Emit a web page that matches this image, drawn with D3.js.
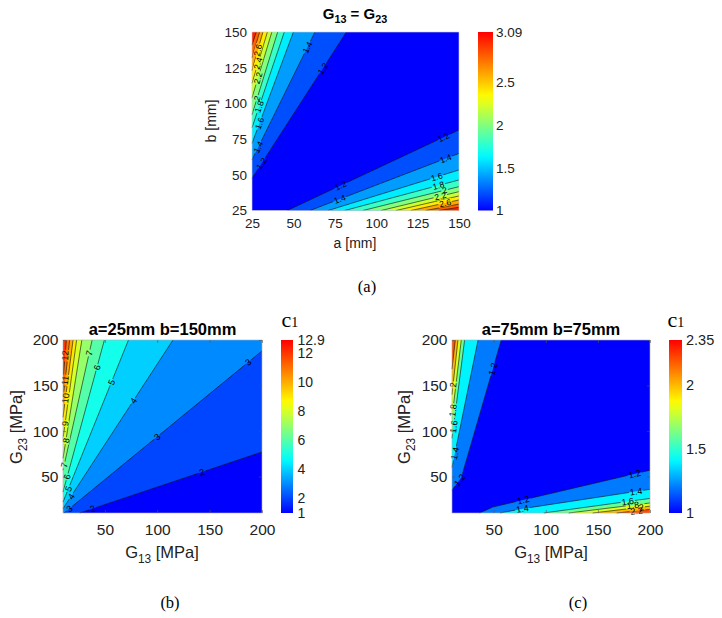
<!DOCTYPE html>
<html><head><meta charset="utf-8">
<script src="https://cdn.jsdelivr.net/npm/d3@7"></script>
<style>
body{margin:0;background:#fff}
svg{display:block}
text{font-family:"Liberation Sans",Arial,Helvetica,sans-serif;fill:#222}
</style>
</head><body>
<svg id="chart" width="722" height="618"></svg>
<script>
// ================= DATA =================
// Panel (a): G13 = G23, c1 over a [mm] x b [mm]
const aLevels = [1.2, 1.4, 1.6, 1.8, 2, 2.2, 2.4, 2.6, 2.8, 3];
const aRange = [1, 3.09];
// contour lines near the top-left corner: from left edge to top edge, [a, b]
const aUpperLines = [
  [[25,47.6],[82,150]], [[25,60.5],[63,150]], [[25,72],[50,150]], [[25,83],[44.5,150]],
  [[25,92],[40.5,150]], [[25,104],[37,150]], [[25,114],[34.3,150]], [[25,123],[31.6,150]],
  [[25,132],[29.6,150]], [[25,141],[27.6,150]]
];
// contour lines near the bottom-right corner: from right edge to bottom edge, [a, b]
const aLowerLines = [
  [[150,81.4],[46.3,25]], [[150,65],[60,25]], [[150,53.4],[71,25]], [[150,46.4],[81,25]],
  [[150,41.7],[92,25]], [[150,38.2],[103,25]], [[150,35.2],[112,25]], [[150,32.4],[121,25]],
  [[150,29.5],[130,25]], [[150,27.3],[138,25]]
];
const aUpperLabelAt = [[0.1,0.75],[0.1,0.88],[0.18],[0.22],[0.2],[0.3],[0.39],[0.53],[],[]];
const aLowerLabelAt = [[0.09,0.69],[0.09,0.8],[0.17],[0.18],[0.15],[0.24],[],[0.29],[],[]];
const aXTicks = [25, 50, 75, 100, 125, 150];
const aYTicks = [25, 50, 75, 100, 125, 150];
const aBarTicks = [1, 1.5, 2, 2.5, 3.09];

// Panel (b): a=25mm b=150mm, c1 over G13 x G23 [MPa]
const bLevels = [2, 3, 4, 5, 6, 7, 8, 9, 10, 11, 12];
const bRange = [1, 12.9];
const bLines = [
  [[26,10],[200,77]], [[11,10],[200,188]], [[10,14.8],[115,200]], [[10,22],[72.5,200]],
  [[10,33],[49.5,200]], [[10,57],[37.8,200]], [[10,70],[28,200]], [[10,92],[23,200]],
  [[10,115],[19.6,200]], [[10,135],[16.4,200]], [[10,155],[13.2,200]]
];
const bLabelAt = [[0.07,0.67],[0.027,0.47,0.93],[0.073,0.64],[0.083,0.74],[0.1,0.82],[0.04,0.9],[0.15],[0.15],[0.25],[0.32],[0.62]];
const bBarTicks = [1, 2, 4, 6, 8, 10, 12, 12.9];

// Panel (c): a=75mm b=75mm
const cLevels = [1.2, 1.4, 1.6, 1.8, 2, 2.2];
const cRange = [1, 2.35];
const cUpperLines = [
  [[10,35],[19,49],[57.3,200]], [[10,60],[35,200]], [[10,92],[22.1,200]],
  [[10,115],[18.9,200]], [[10,140],[15.7,200]], [[10,168],[13.2,200]]
];
const cLowerLines = [
  [[200,57],[49,16.5],[36.5,10]], [[200,36],[78,14.8],[56,10]], [[200,26],[98,10]],
  [[200,21],[122,10]], [[200,17.5],[145,10]], [[200,14],[168,10]]
];
const cUpperLabelAt = [[0.08,0.81],[0.11],[0.12],[0.09],[0.18],[]];
const cLowerLabelAt = [[0.09,0.74],[0.093,0.85],[0.21],[0.21],[0.15],[0.4]];
const cBarTicks = [1, 1.5, 2, 2.35];

const gTicks = [50, 100, 150, 200];
const gDomain = [10, 200];

// ================= DRAWING =================
const W = 722, H = 618;
const svg = d3.select("#chart");
const defs = svg.append("defs");
const jet = d3.scaleLinear().domain([0, 0.31, 0.64, 1])
  .range(["#0000ff", "#00ffff", "#ffff00", "#ff0000"]).clamp(true);

function rich(sel, parts, size) {
  let sub = false;
  parts.forEach(p => {
    const ts = sel.append("tspan").text(p.t);
    if (p.sub && !sub) { ts.attr("font-size", size * 0.72).attr("dy", size * 0.32); sub = true; }
    else if (!p.sub && sub) { ts.attr("dy", -size * 0.32); sub = false; }
  });
}

function regionPoints(line, d) {
  const e = 1e-9;
  const per = p => {
    if (Math.abs(p[0] - d.x0) < e) return (p[1] - d.y0) / (d.y1 - d.y0);
    if (Math.abs(p[1] - d.y1) < e) return 1 + (p[0] - d.x0) / (d.x1 - d.x0);
    if (Math.abs(p[0] - d.x1) < e) return 2 + (d.y1 - p[1]) / (d.y1 - d.y0);
    return 3 + (d.x1 - p[0]) / (d.x1 - d.x0);
  };
  const corners = [[d.x0, d.y0], [d.x0, d.y1], [d.x1, d.y1], [d.x1, d.y0]];
  const sEnd = per(line[line.length - 1]);
  let sStart = per(line[0]);
  if (sStart >= sEnd) sStart -= 4;
  const pts = line.slice();
  for (let k = Math.floor(sEnd); k > sStart; k--) {
    if (k === sEnd) continue;
    pts.push(corners[((k % 4) + 4) % 4]);
  }
  return pts;
}

function along(pts, t) {
  const segs = []; let total = 0;
  for (let i = 0; i < pts.length - 1; i++) {
    const l = Math.hypot(pts[i+1][0] - pts[i][0], pts[i+1][1] - pts[i][1]);
    segs.push(l); total += l;
  }
  let target = t * total;
  for (let i = 0; i < segs.length; i++) {
    if (target <= segs[i] || i === segs.length - 1) {
      const f = target / segs[i];
      const dx = pts[i+1][0] - pts[i][0], dy = pts[i+1][1] - pts[i][1];
      let a = Math.atan2(dy, dx) * 180 / Math.PI;
      if (a > 90) a -= 180; if (a <= -90) a += 180;
      return { x: pts[i][0] + f * dx, y: pts[i][1] + f * dy, a };
    }
    target -= segs[i];
  }
}

function drawPanel(P) {
  const g = svg.append("g");
  const xs = d3.scaleLinear().domain(P.xDomain).range([P.left, P.right]);
  const ys = d3.scaleLinear().domain(P.yDomain).range([P.bottom, P.top]);
  const dom = { x0: P.xDomain[0], x1: P.xDomain[1], y0: P.yDomain[0], y1: P.yDomain[1] };
  const col = v => jet((v - P.range[0]) / (P.range[1] - P.range[0]));
  const path = d3.line().x(p => xs(p[0])).y(p => ys(p[1]));

  g.append("rect").attr("x", P.left).attr("y", P.top)
    .attr("width", P.right - P.left).attr("height", P.bottom - P.top)
    .attr("fill", col(P.range[0]));
  P.levels.forEach((lv, i) => {
    P.sides.forEach(side => {
      const ln = side.lines[i]; if (!ln) return;
      g.append("path").attr("d", path(regionPoints(ln, dom)) + "Z").attr("fill", col(lv));
    });
  });

  const maskId = P.id + "-mask";
  const mask = defs.append("mask").attr("id", maskId).attr("maskUnits", "userSpaceOnUse")
    .attr("x", 0).attr("y", 0).attr("width", W).attr("height", H);
  mask.append("rect").attr("width", W).attr("height", H).attr("fill", "#fff");
  const lineG = g.append("g").attr("mask", `url(#${maskId})`);
  const labelG = g.append("g");
  P.levels.forEach((lv, i) => {
    P.sides.forEach(side => {
      const ln = side.lines[i]; if (!ln) return;
      lineG.append("path").attr("d", path(ln)).attr("fill", "none")
        .attr("stroke", "#111").attr("stroke-width", 0.6);
      const pxPts = ln.map(p => [xs(p[0]), ys(p[1])]);
      (side.labelAt[i] || []).forEach(t => {
        const q = along(pxPts, t);
        const tr = `translate(${q.x},${q.y}) rotate(${q.a})`;
        const txt = labelG.append("text").attr("transform", tr)
          .attr("text-anchor", "middle").attr("dy", "0.36em")
          .attr("font-size", P.labelSize).style("fill", "#000").text(String(lv));
        const w = txt.node().getComputedTextLength();
        mask.append("rect").attr("transform", tr)
          .attr("x", -w / 2 - 1).attr("y", -P.labelSize * 0.42)
          .attr("width", w + 2).attr("height", P.labelSize * 0.84).attr("fill", "#000");
      });
    });
  });

  g.append("rect").attr("x", P.left).attr("y", P.top)
    .attr("width", P.right - P.left).attr("height", P.bottom - P.top)
    .attr("fill", "none").attr("stroke", P.frame).attr("stroke-width", 0.6);

  if (P.innerTicks) {
    const tk = (ax, tr) => g.append("g").attr("transform", tr)
      .call(ax.tickSize(-3).tickFormat("")).call(s => s.select(".domain").remove())
      .selectAll("line").attr("stroke", "#555").attr("stroke-width", 0.6);
    tk(d3.axisBottom(xs).tickValues(P.xTicks), `translate(0,${P.bottom})`);
    tk(d3.axisTop(xs).tickValues(P.xTicks), `translate(0,${P.top})`);
    tk(d3.axisLeft(ys).tickValues(P.yTicks), `translate(${P.left},0)`);
    tk(d3.axisRight(ys).tickValues(P.yTicks), `translate(${P.right},0)`);
  }

  // axes labels
  const xa = g.append("g").attr("transform", `translate(0,${P.bottom})`)
    .call(d3.axisBottom(xs).tickValues(P.xTicks).tickSize(0).tickPadding(P.xPad));
  xa.select(".domain").remove();
  xa.selectAll("text").attr("font-size", P.tickSize).attr("font-family", null).style("fill", "#222");
  const ya = g.append("g").attr("transform", `translate(${P.left},0)`)
    .call(d3.axisLeft(ys).tickValues(P.yTicks).tickSize(0).tickPadding(P.yPad));
  ya.select(".domain").remove();
  ya.selectAll("text").attr("font-size", P.tickSize).attr("font-family", null).style("fill", "#222");

  // colorbar
  const gid = P.id + "-grad";
  const grad = defs.append("linearGradient").attr("id", gid)
    .attr("x1", 0).attr("y1", 1).attr("x2", 0).attr("y2", 0);
  d3.range(0, 1.0001, 0.05).forEach(t => grad.append("stop").attr("offset", t).attr("stop-color", jet(t)));
  g.append("rect").attr("x", P.barX).attr("y", P.top).attr("width", P.barW)
    .attr("height", P.bottom - P.top).attr("fill", `url(#${gid})`);
  const bs = d3.scaleLinear().domain(P.range).range([P.bottom, P.top]);
  const ba = g.append("g").attr("transform", `translate(${P.barX + P.barW},0)`)
    .call(d3.axisRight(bs).tickValues(P.barTicks).tickSize(0).tickPadding(P.barPad).tickFormat(d => String(d)));
  ba.select(".domain").remove();
  ba.selectAll("text").attr("font-size", P.barSize).attr("font-family", null).style("fill", "#222");

  // title
  const tt = g.append("text").attr("x", P.titlePos[0]).attr("y", P.titlePos[1])
    .attr("text-anchor", "middle").attr("font-weight", "bold").attr("font-size", P.titleSize).style("fill", "#000");
  rich(tt, P.title, P.titleSize);
  // x label
  const xl = g.append("text").attr("x", P.xLabelPos[0]).attr("y", P.xLabelPos[1])
    .attr("text-anchor", "middle").attr("font-size", P.labSize);
  rich(xl, P.xLabel, P.labSize);
  // y label
  const yl = g.append("text").attr("transform", `translate(${P.yLabelPos[0]},${P.yLabelPos[1]}) rotate(-90)`)
    .attr("text-anchor", "middle").attr("font-size", P.labSize);
  rich(yl, P.yLabel, P.labSize);
  // c1 label
  if (P.cPos) {
    const ct = g.append("text").attr("x", P.cPos[0]).attr("y", P.cPos[1])
      .style("font-family", '"Liberation Serif","Times New Roman",serif').style("fill", "#000");
    ct.append("tspan").attr("font-size", 22).text("c");
    ct.append("tspan").attr("font-size", 14).text("1");
  }
  // panel letter
  g.append("text").attr("x", P.letterPos[0]).attr("y", P.letterPos[1])
    .attr("text-anchor", "middle").attr("font-size", 16.5)
    .style("font-family", '"Liberation Serif","Times New Roman",serif').style("fill", "#000")
    .text(P.letter);
}

drawPanel({
  id: "pa", left: 252, right: 459, top: 32, bottom: 210.5,
  xDomain: [25, 150], yDomain: [25, 150], levels: aLevels, range: aRange,
  sides: [{ lines: aUpperLines, labelAt: aUpperLabelAt }, { lines: aLowerLines, labelAt: aLowerLabelAt }],
  labelSize: 8.5, frame: "#cfcfcf", innerTicks: false,
  xTicks: aXTicks, yTicks: aYTicks, tickSize: 13.5, xPad: 7.5, yPad: 5,
  barX: 478, barW: 15, barTicks: aBarTicks, barPad: 3, barSize: 13.5,
  title: [{ t: "G" }, { t: "13", sub: true }, { t: " = G" }, { t: "23", sub: true }],
  titlePos: [355, 18.5], titleSize: 15,
  xLabel: [{ t: "a [mm]" }], xLabelPos: [355, 248], labSize: 14,
  yLabel: [{ t: "b [mm]" }], yLabelPos: [215.5, 121],
  letter: "(a)", letterPos: [367, 292]
});

drawPanel({
  id: "pb", left: 63, right: 262, top: 340, bottom: 513,
  xDomain: gDomain, yDomain: gDomain, levels: bLevels, range: bRange,
  sides: [{ lines: bLines, labelAt: bLabelAt }],
  labelSize: 9, frame: "#b0b0b0", innerTicks: true,
  xTicks: gTicks, yTicks: gTicks, tickSize: 15.5, xPad: 10.5, yPad: 4.5,
  barX: 281, barW: 12, barTicks: bBarTicks, barPad: 4.5, barSize: 14,
  title: [{ t: "a=25mm b=150mm" }], titlePos: [162.5, 335], titleSize: 16.5,
  xLabel: [{ t: "G" }, { t: "13", sub: true }, { t: " [MPa]" }], xLabelPos: [162, 558], labSize: 16.5,
  yLabel: [{ t: "G" }, { t: "23", sub: true }, { t: " [MPa]" }], yLabelPos: [22, 427],
  cPos: [281.5, 327],
  letter: "(b)", letterPos: [170, 608]
});

drawPanel({
  id: "pc", left: 452, right: 650, top: 340, bottom: 513,
  xDomain: gDomain, yDomain: gDomain, levels: cLevels, range: cRange,
  sides: [{ lines: cUpperLines, labelAt: cUpperLabelAt }, { lines: cLowerLines, labelAt: cLowerLabelAt }],
  labelSize: 9, frame: "#b0b0b0", innerTicks: true,
  xTicks: gTicks, yTicks: gTicks, tickSize: 15.5, xPad: 10.5, yPad: 4.5,
  barX: 669, barW: 13, barTicks: cBarTicks, barPad: 4, barSize: 14.5,
  title: [{ t: "a=75mm b=75mm" }], titlePos: [551, 335], titleSize: 16.5,
  xLabel: [{ t: "G" }, { t: "13", sub: true }, { t: " [MPa]" }], xLabelPos: [551, 558], labSize: 16.5,
  yLabel: [{ t: "G" }, { t: "23", sub: true }, { t: " [MPa]" }], yLabelPos: [410, 427],
  cPos: [667.5, 327],
  letter: "(c)", letterPos: [578, 608]
});
</script>
</body></html>
